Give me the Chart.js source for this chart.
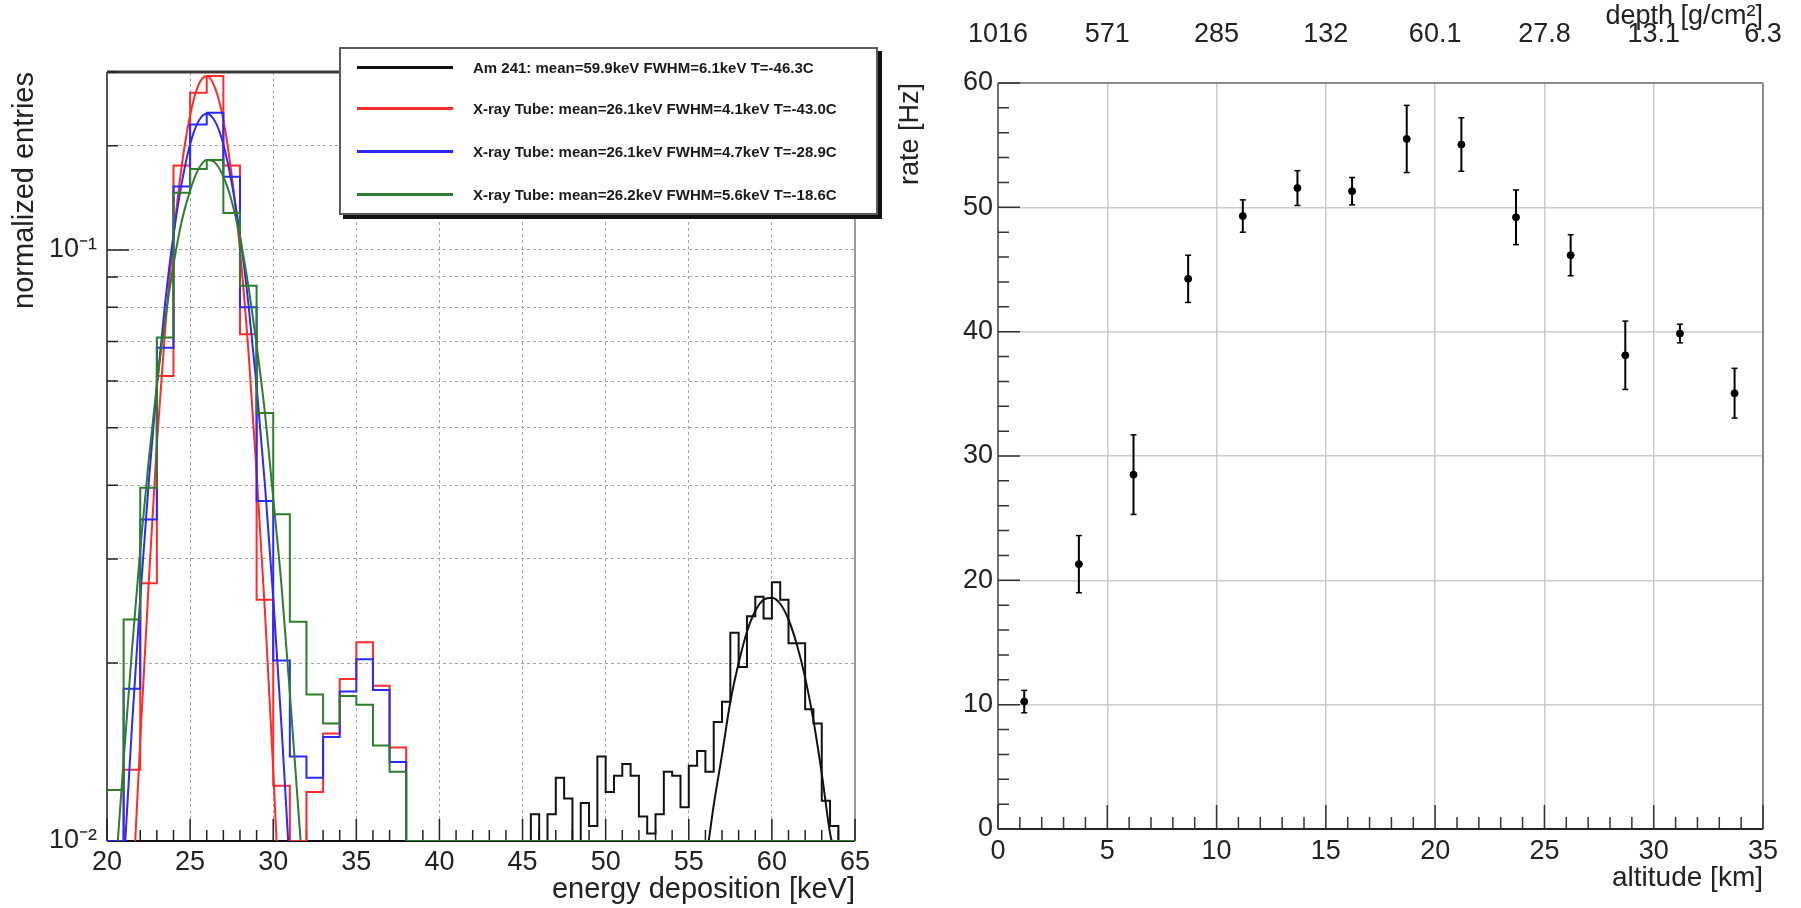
<!DOCTYPE html>
<html>
<head>
<meta charset="utf-8">
<title>spectra and rate</title>
<script src="https://cdn.jsdelivr.net/npm/chart.js@4.4.1/dist/chart.umd.min.js"></script>
<style>
html, body { margin: 0; padding: 0; background: #fff; }
body { width: 1801px; height: 908px; position: relative; overflow: hidden; }
#leftBox { position: absolute; left: 0; top: 0; width: 880px; height: 908px; }
#rightBox { position: absolute; left: 880px; top: 0; width: 921px; height: 908px; }
#legend { position: absolute; left: 339px; top: 47px; width: 535px; height: 164px; border: 2px solid #5a5a5a;
          background: #fff; box-shadow: 4px 4px 0 #111; font-family: "Liberation Sans", Arial, sans-serif; }
#legend .row { position: absolute; left: 0; right: 0; height: 20px; }
#legend .sample { position: absolute; left: 16px; top: 8px; width: 96px; height: 3px; }
#legend .text { position: absolute; left: 132px; top: 0; font-size: 15px; font-weight: bold; line-height: 20px;
                color: #1a1a1a; white-space: nowrap; }
</style>
</head>
<body>
<div id="leftBox"><canvas id="spectrumChart" width="880" height="908"></canvas></div>
<div id="rightBox"><canvas id="rateChart" width="921" height="908"></canvas></div>
<div id="legend"></div>
<script>
var FONT = '"Liberation Sans", Arial, sans-serif';
Chart.defaults.font.family = FONT;
Chart.defaults.color = '#222';

// ---------- left panel: energy spectra ----------
var legendLabels = [
    'Am 241: mean=59.9keV FWHM=6.1keV T=-46.3C',
    'X-ray Tube: mean=26.1keV FWHM=4.1keV T=-43.0C',
    'X-ray Tube: mean=26.1keV FWHM=4.7keV T=-28.9C',
    'X-ray Tube: mean=26.2keV FWHM=5.6keV T=-18.6C'
];
var seriesColors = ['#111111', '#ff2a2a', '#2a2aff', '#2d7d2d'];

// x-ray tube histograms, 1 keV bins from 20 keV
var xrayBinStart = 20;
var xrayBinWidth = 1;
var redCounts   = [0, 0.0132, 0.0273, 0.0612, 0.139, 0.1845, 0.197, 0.139, 0.072, 0.0256, 0.0124, 0, 0.0121, 0.0152, 0.0188, 0.0217, 0.0183, 0.0144];
var blueCounts  = [0, 0.0181, 0.035, 0.0683, 0.128, 0.163, 0.1706, 0.133, 0.080, 0.0376, 0.0202, 0.0139, 0.0128, 0.0150, 0.0179, 0.0203, 0.0180, 0.0136];
var greenCounts = [0.0122, 0.0237, 0.0396, 0.0711, 0.125, 0.137, 0.142, 0.1155, 0.087, 0.053, 0.0357, 0.0235, 0.0177, 0.0158, 0.0176, 0.0170, 0.0145, 0.0131];

// Am 241 histogram, 0.5 keV bins from 45 keV
var amBinStart = 45;
var amBinWidth = 0.5;
var amCounts = [0, 0.0111, 0, 0.0111, 0.0128, 0.0118, 0, 0.0116, 0.0106, 0.0139,
                0.0121, 0.0129, 0.0135, 0.0129, 0.0110, 0.0103, 0.0111, 0.0131, 0.0129, 0.0114,
                0.0134, 0.0142, 0.0131, 0.0159, 0.0172, 0.0225, 0.0197, 0.0240, 0.0259, 0.0238,
                0.0274, 0.0256, 0.0216, 0.0216, 0.0167, 0.0158, 0.0117, 0.0106];

// fitted curves
var amFitE = [56.2, 56.5, 57.0, 57.5, 58.0, 58.5, 59.0, 59.5, 60.0, 60.5, 61.0, 61.5, 62.0, 62.5, 63.0, 63.5, 63.6];
var amFitV = [0.0100, 0.0115, 0.0140, 0.0172, 0.0200, 0.0226, 0.0245, 0.0256, 0.0258, 0.0252, 0.0237, 0.0215, 0.0189, 0.0160, 0.0130, 0.0103, 0.0100];
var redFitE = [21.7, 22.0, 22.5, 23.0, 23.5, 24.0, 24.5, 25.0, 25.5, 26.0, 26.5, 27.0, 27.5, 28.0, 28.5, 29.0, 29.5, 30.0, 30.2];
var redFitV = [0.0100, 0.0148, 0.0270, 0.0470, 0.0735, 0.105, 0.139, 0.169, 0.190, 0.197, 0.188, 0.166, 0.134, 0.100, 0.068, 0.042, 0.0245, 0.0132, 0.0100];
var blueFitE = [21.1, 21.5, 22.0, 22.5, 23.0, 23.5, 24.0, 24.5, 25.0, 25.5, 26.0, 26.5, 27.0, 27.5, 28.0, 28.5, 29.0, 29.5, 30.0, 30.5, 30.9];
var blueFitV = [0.0100, 0.0156, 0.0258, 0.0401, 0.0588, 0.0814, 0.106, 0.130, 0.151, 0.165, 0.170, 0.165, 0.151, 0.130, 0.106, 0.0814, 0.0588, 0.0401, 0.0258, 0.0156, 0.0100];
var greenFitE = [20.65, 21.0, 21.5, 22.0, 22.5, 23.0, 23.5, 24.0, 24.5, 25.0, 25.5, 26.0, 26.5, 27.0, 27.5, 28.0, 28.5, 29.0, 29.5, 30.0, 30.5, 31.0, 31.5, 31.65];
var greenFitV = [0.0100, 0.0137, 0.0210, 0.0311, 0.0438, 0.0591, 0.0764, 0.0944, 0.112, 0.126, 0.137, 0.142, 0.1405, 0.133, 0.121, 0.105, 0.087, 0.069, 0.053, 0.038, 0.027, 0.0178, 0.0114, 0.0100];

var energyMin = 20, energyMax = 65;
var entriesMin = 0.01, entriesMax = 0.2;
var decadeValues = [0.01, 0.1];
var decadeLabels = ['10\u207B\u00B2', '10\u207B\u00B9'];

// ---------- right panel: rate vs altitude ----------
var altitude = [1.2, 3.7, 6.2, 8.7, 11.2, 13.7, 16.2, 18.7, 21.2, 23.7, 26.2, 28.7, 31.2, 33.7];
var rate     = [10.25, 21.3, 28.5, 44.25, 49.3, 51.55, 51.3, 55.5, 55.05, 49.2, 46.15, 38.1, 39.85, 35.05];
var rateErr  = [0.9, 2.3, 3.2, 1.9, 1.3, 1.4, 1.1, 2.7, 2.15, 2.2, 1.65, 2.75, 0.75, 2.0];
var depthAltitude = [0, 5, 10, 15, 20, 25, 30, 35];
var depthLabels   = ['1016', '571', '285', '132', '60.1', '27.8', '13.1', '6.3'];

// empty bins sit on the bottom of the log axis, like ROOT draws them
function histPoints(start, width, counts, leadIn) {
    var pts = [];
    if (leadIn) pts.push({x: energyMin, y: entriesMin});
    counts.forEach(function (c, i) {
        pts.push({x: start + i * width, y: c > 0 ? c : entriesMin});
    });
    pts.push({x: start + counts.length * width, y: entriesMin});
    pts.push({x: energyMax, y: entriesMin});
    return pts;
}

function curvePoints(es, vs) {
    return es.map(function (e, i) { return {x: e, y: vs[i]}; });
}

function histDataset(points, color, order) {
    return {data: points, borderColor: color, borderWidth: 2, stepped: true,
            pointRadius: 0, fill: false, order: order};
}

function fitDataset(points, color, order) {
    return {data: points, borderColor: color, borderWidth: 2, pointRadius: 0,
            cubicInterpolationMode: 'monotone', fill: false, order: order};
}

// ROOT-like frame with ticks pointing inwards
function makeFrame(cfg) {
    return {
        id: 'rootFrame',
        beforeDatasetsDraw: function (chart) {
            var ctx = chart.ctx, a = chart.chartArea;
            var xs = chart.scales.x, ys = chart.scales.y;
            ctx.save();
            cfg.frame.forEach(function (f) {
                ctx.beginPath();
                ctx.strokeStyle = f.color;
                ctx.lineWidth = f.width;
                if (f.side === 'top') { ctx.moveTo(a.left, a.top); ctx.lineTo(a.right, a.top); }
                if (f.side === 'bottom') { ctx.moveTo(a.left, a.bottom); ctx.lineTo(a.right, a.bottom); }
                if (f.side === 'left') { ctx.moveTo(a.left, a.top); ctx.lineTo(a.left, a.bottom); }
                if (f.side === 'right') { ctx.moveTo(a.right, a.top); ctx.lineTo(a.right, a.bottom); }
                ctx.stroke();
            });
            ctx.strokeStyle = cfg.tickColor;
            ctx.lineWidth = 1.5;
            ctx.beginPath();
            cfg.xTicks(xs).forEach(function (t) {
                var p = xs.getPixelForValue(t[0]);
                ctx.moveTo(p, a.bottom);
                ctx.lineTo(p, a.bottom - t[1]);
            });
            cfg.yTicks(ys).forEach(function (t) {
                var p = ys.getPixelForValue(t[0]);
                ctx.moveTo(a.left, p);
                ctx.lineTo(a.left + t[1], p);
            });
            ctx.stroke();
            ctx.restore();
        }
    };
}

function isDecade(v) {
    var e = Math.log10(v);
    return Math.abs(e - Math.round(e)) < 1e-6;
}

var spectrumDatasets = [
    fitDataset(curvePoints(greenFitE, greenFitV), seriesColors[3], 0),
    histDataset(histPoints(xrayBinStart, xrayBinWidth, greenCounts, false), seriesColors[3], 1),
    fitDataset(curvePoints(blueFitE, blueFitV), seriesColors[2], 2),
    histDataset(histPoints(xrayBinStart, xrayBinWidth, blueCounts, false), seriesColors[2], 3),
    fitDataset(curvePoints(redFitE, redFitV), seriesColors[1], 4),
    histDataset(histPoints(xrayBinStart, xrayBinWidth, redCounts, false), seriesColors[1], 5),
    fitDataset(curvePoints(amFitE, amFitV), seriesColors[0], 6),
    histDataset(histPoints(amBinStart, amBinWidth, amCounts, true), seriesColors[0], 7)
];

var spectrumChart = new Chart(document.getElementById('spectrumChart'), {
    type: 'line',
    data: {datasets: spectrumDatasets},
    plugins: [makeFrame({
        tickColor: '#222',
        frame: [
            {side: 'top', color: '#3a3a3a', width: 3},
            {side: 'right', color: '#9a9a9a', width: 2},
            {side: 'left', color: '#555', width: 2},
            {side: 'bottom', color: '#111', width: 2}
        ],
        xTicks: function () {
            var out = [];
            for (var e = energyMin; e <= energyMax; e++) out.push([e, e % 5 === 0 ? 22 : 11]);
            return out;
        },
        yTicks: function (s) {
            return s.ticks.map(function (t) { return [t.value, isDecade(t.value) ? 22 : 11]; });
        }
    })],
    options: {
        responsive: false,
        animation: false,
        events: [],
        layout: {padding: {left: 0, right: 25, top: 72, bottom: 0}},
        plugins: {legend: {display: false}, tooltip: {enabled: false}},
        scales: {
            x: {
                type: 'linear', min: energyMin, max: energyMax,
                afterFit: function (s) { s.height = 67; },
                ticks: {stepSize: 5, padding: 5, autoSkip: false, maxRotation: 0, font: {size: 27}},
                grid: {drawTicks: false, color: '#a5a5a5', lineWidth: 1},
                border: {display: false, dash: [3, 3]},
                title: {display: true, text: 'energy deposition [keV]', align: 'end',
                        font: {size: 29}, padding: {top: 0, bottom: 1}}
            },
            y: {
                type: 'logarithmic', min: entriesMin, max: entriesMax,
                afterFit: function (s) { s.width = 107; },
                ticks: {
                    autoSkip: false, padding: 10, font: {size: 27},
                    callback: function (v) {
                        for (var i = 0; i < decadeValues.length; i++) {
                            if (Math.abs(v - decadeValues[i]) < 1e-9) return decadeLabels[i];
                        }
                        return '';
                    }
                },
                grid: {drawTicks: false, color: '#a5a5a5', lineWidth: 1},
                border: {display: false, dash: [3, 3]},
                title: {display: true, text: 'normalized entries', align: 'end',
                        font: {size: 29}, padding: {top: 8, bottom: 0}}
            }
        }
    }
});

// html legend inside the left plot
var legendBox = document.getElementById('legend');
var rowCenters = [19, 60, 103, 146];
legendLabels.forEach(function (label, i) {
    var row = document.createElement('div');
    row.className = 'row';
    row.style.top = (rowCenters[i] - 10) + 'px';
    var sample = document.createElement('div');
    sample.className = 'sample';
    sample.style.background = seriesColors[i];
    var text = document.createElement('div');
    text.className = 'text';
    text.textContent = label;
    row.appendChild(sample);
    row.appendChild(text);
    legendBox.appendChild(row);
});

// error bars as short vertical segments separated by gaps
var errorBars = [];
altitude.forEach(function (a, i) {
    errorBars.push({x: a, y: rate[i] - rateErr[i]});
    errorBars.push({x: a, y: rate[i] + rateErr[i]});
    errorBars.push({x: a, y: null});
});

var rateChart = new Chart(document.getElementById('rateChart'), {
    type: 'line',
    data: {
        datasets: [
            {
                data: altitude.map(function (a, i) { return {x: a, y: rate[i]}; }),
                showLine: false, pointRadius: 3.5, pointBackgroundColor: '#000',
                pointBorderColor: '#000', pointBorderWidth: 1, order: 0
            },
            {
                data: errorBars, borderColor: '#000', borderWidth: 2, spanGaps: false,
                pointStyle: 'line', pointRadius: 3, pointBorderColor: '#000', pointBorderWidth: 1.5,
                fill: false, order: 1
            }
        ]
    },
    plugins: [makeFrame({
        tickColor: '#333',
        frame: [
            {side: 'top', color: '#8a8a8a', width: 2},
            {side: 'right', color: '#8a8a8a', width: 2},
            {side: 'left', color: '#707070', width: 2},
            {side: 'bottom', color: '#222', width: 2}
        ],
        xTicks: function () {
            var out = [];
            for (var k = 0; k <= 35; k++) out.push([k, k % 5 === 0 ? 24 : 12]);
            return out;
        },
        yTicks: function () {
            var out = [];
            for (var r = 0; r <= 60; r += 2) out.push([r, r % 10 === 0 ? 22 : 11]);
            return out;
        }
    })],
    options: {
        responsive: false,
        animation: false,
        events: [],
        layout: {padding: {left: 0, right: 38, top: 0, bottom: 0}},
        plugins: {legend: {display: false}, tooltip: {enabled: false}},
        scales: {
            x: {
                type: 'linear', min: 0, max: 35,
                afterFit: function (s) { s.height = 79; },
                ticks: {stepSize: 5, padding: 6, autoSkip: false, maxRotation: 0, font: {size: 27}},
                grid: {drawTicks: false, color: '#cccccc', lineWidth: 1.5},
                border: {display: false},
                title: {display: true, text: 'altitude [km]', align: 'end',
                        font: {size: 28}, padding: {top: 0, bottom: 13}}
            },
            x2: {
                type: 'linear', position: 'top', min: 0, max: 35,
                afterFit: function (s) { s.height = 83; },
                ticks: {
                    stepSize: 5, padding: 4, autoSkip: false, maxRotation: 0,
                    font: {size: 27, lineHeight: 3.3},
                    callback: function (v) {
                        var i = depthAltitude.indexOf(v);
                        return i >= 0 ? depthLabels[i] : '';
                    }
                },
                grid: {display: false, drawTicks: false},
                border: {display: false},
                title: {display: true, text: 'depth [g/cm\u00B2]', align: 'end',
                        font: {size: 27, lineHeight: 1.25}, padding: {top: 0, bottom: 0}}
            },
            y: {
                type: 'linear', min: 0, max: 60,
                afterFit: function (s) { s.width = 118; },
                ticks: {stepSize: 10, padding: 5, font: {size: 27}},
                grid: {drawTicks: false, color: '#cccccc', lineWidth: 1.5},
                border: {display: false},
                title: {display: true, text: 'rate [Hz]', align: 'end',
                        font: {size: 27}, padding: {top: 14, bottom: 0}}
            }
        }
    }
});
</script>
</body>
</html>
